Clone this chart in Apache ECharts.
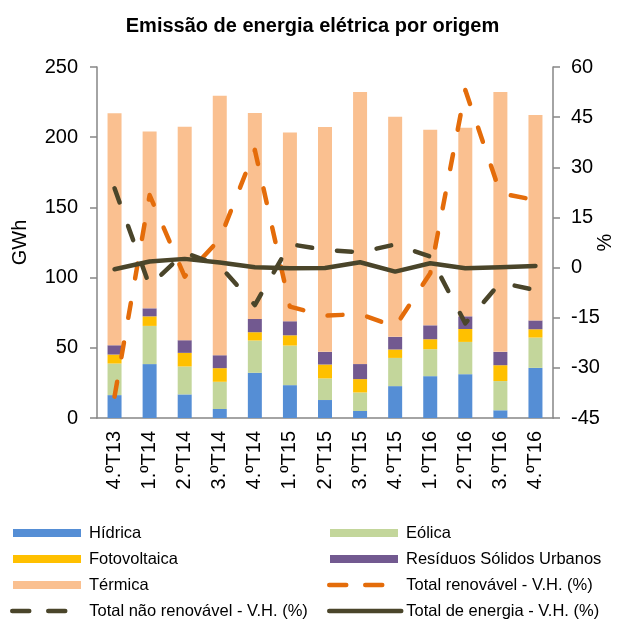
<!DOCTYPE html>
<html>
<head>
<meta charset="utf-8">
<script src="https://cdn.jsdelivr.net/npm/echarts@6/dist/echarts.min.js"></script>
<style>
  html, body { margin: 0; padding: 0; background: #fff; }
  #chart { width: 625px; height: 619px; }
</style>
</head>
<body>
<div id="chart"></div>
<script>
// quarters
const categories = ['4.ºT13', '1.ºT14', '2.ºT14', '3.ºT14', '4.ºT14', '1.ºT15', '2.ºT15',
    '3.ºT15', '4.ºT15', '1.ºT16', '2.ºT16', '3.ºT16', '4.ºT16'];

// GWh, stacked
const hidrica = [16.3, 38.4, 16.8, 6.4, 32.2, 23.4, 12.8, 5.0, 22.7, 29.8, 31.2, 5.5, 35.7];
const eolica = [22.5, 27.2, 19.9, 19.4, 23.0, 28.2, 15.4, 13.2, 20.1, 19.2, 23.0, 20.8, 21.6];
const fotovoltaica = [6.4, 6.8, 9.7, 9.7, 5.9, 7.3, 9.9, 9.5, 6.0, 7.1, 9.2, 11.3, 5.9];
const rsu = [6.6, 5.7, 9.0, 9.2, 9.4, 10.0, 9.0, 10.7, 9.0, 9.9, 9.0, 9.5, 6.3];
const termica = [165.2, 125.9, 152.0, 184.9, 146.8, 134.4, 160.1, 193.8, 156.7, 139.3, 134.3, 185.1, 146.3];

// V.H. (%)
const totalRenovavel = [-38.6, 21.7, -2.7, 8.5, 35.2, -11.7, -14.4, -13.9, -17.7, -1.7, 53.1, 22.2, 20.2];
const totalNaoRenovavel = [23.7, -5.5, 4.5, 0.5, -11.2, 7.0, 5.3, 4.6, 6.9, 3.3, -16.7, -4.5, -6.7];
const totalEnergia = [-0.5, 1.8, 2.6, 1.5, 0.1, -0.2, -0.1, 1.6, -1.2, 1.3, -0.2, 0.1, 0.5];

const font = 'Liberation Sans, Arial, sans-serif';
const axisColor = '#868686';

let myChart = echarts.init(document.getElementById('chart'));

function barSeries(name, data, color) {
    return {
        name: name,
        type: 'bar',
        stack: 'gwh',
        barWidth: 14,
        data: data,
        itemStyle: { color: color }
    };
}

function lineSeries(name, data, color, dash) {
    return {
        name: name,
        type: 'line',
        yAxisIndex: 1,
        data: data,
        symbol: 'none',
        lineStyle: { color: color, width: 4.5, type: dash || 'solid', cap: 'round', join: 'round' },
        itemStyle: { color: color }
    };
}

// one legend per entry so the two columns line up like the original
function legendItem(name, left, rowY, line, dash) {
    let item = { name: name };
    if (line) {
        item.itemStyle = { opacity: 0 };
        item.lineStyle = { width: 4.5, type: dash || 'solid', cap: 'round' };
    } else {
        item.icon = 'rect';
    }
    return {
        orient: 'horizontal',
        left: line ? left - 3 : left,
        top: rowY - 9,
        padding: 0,
        itemWidth: line ? 72 : 68,
        itemHeight: 8,
        textStyle: { fontFamily: font, fontSize: 16.5, lineHeight: 18, color: '#000',
            padding: [0, 0, 0, line ? 0 : 3] },
        data: [item]
    };
}

const rows = [533, 559, 585, 611];

myChart.setOption({
    animation: false,
    title: {
        text: 'Emissão de energia elétrica por origem',
        left: 'center',
        top: 11,
        textStyle: { fontFamily: font, fontSize: 20, fontWeight: 'bold', color: '#000' }
    },
    grid: { left: 97, right: 72, top: 67, bottom: 201, containLabel: false, outerBoundsMode: 'none' },
    legend: [
        legendItem('Hídrica', 13, rows[0]),
        legendItem('Fotovoltaica', 13, rows[1]),
        legendItem('Térmica', 13, rows[2]),
        legendItem('Total não renovável - V.H. (%)', 13, rows[3], true, [17, 19]),
        legendItem('Eólica', 330, rows[0]),
        legendItem('Resíduos Sólidos Urbanos', 330, rows[1]),
        legendItem('Total renovável - V.H. (%)', 330, rows[2], true, [17, 19]),
        legendItem('Total de energia - V.H. (%)', 330, rows[3], true)
    ],
    xAxis: {
        type: 'category',
        data: categories,
        axisLine: { lineStyle: { color: axisColor, width: 1.5 } },
        axisTick: { length: 6, lineStyle: { color: axisColor, width: 1.5 } },
        axisLabel: { rotate: 90, margin: 13, fontFamily: font, fontSize: 20, color: '#000' }
    },
    yAxis: [{
        type: 'value',
        min: 0,
        max: 250,
        interval: 50,
        name: 'GWh',
        nameLocation: 'middle',
        nameRotate: 90,
        nameGap: 67,
        nameMoveOverlap: false,
        nameTextStyle: { fontFamily: font, fontSize: 20, color: '#000' },
        axisLine: { show: true, lineStyle: { color: axisColor, width: 1.5 } },
        axisTick: { show: true, length: 7, lineStyle: { color: axisColor, width: 1.5 } },
        axisLabel: { margin: 19, fontFamily: font, fontSize: 20, color: '#000' },
        splitLine: { show: false }
    }, {
        type: 'value',
        min: -45,
        max: 60,
        interval: 15,
        name: '%',
        nameLocation: 'middle',
        nameRotate: 90,
        nameGap: 42,
        nameMoveOverlap: false,
        nameTextStyle: { fontFamily: font, fontSize: 20, color: '#000' },
        axisLine: { show: true, lineStyle: { color: axisColor, width: 1.5 } },
        axisTick: { show: true, length: 7, lineStyle: { color: axisColor, width: 1.5 } },
        axisLabel: { margin: 18, fontFamily: font, fontSize: 20, color: '#000' },
        splitLine: { show: false }
    }],
    series: [
        barSeries('Hídrica', hidrica, '#558ED5'),
        barSeries('Eólica', eolica, '#C3D69B'),
        barSeries('Fotovoltaica', fotovoltaica, '#FFC000'),
        barSeries('Resíduos Sólidos Urbanos', rsu, '#725990'),
        barSeries('Térmica', termica, '#FAC090'),
        lineSeries('Total renovável - V.H. (%)', totalRenovavel, '#E46C0A', [15, 25]),
        lineSeries('Total não renovável - V.H. (%)', totalNaoRenovavel, '#4A452A', [15, 25]),
        lineSeries('Total de energia - V.H. (%)', totalEnergia, '#4A452A')
    ]
});
</script>
</body>
</html>
